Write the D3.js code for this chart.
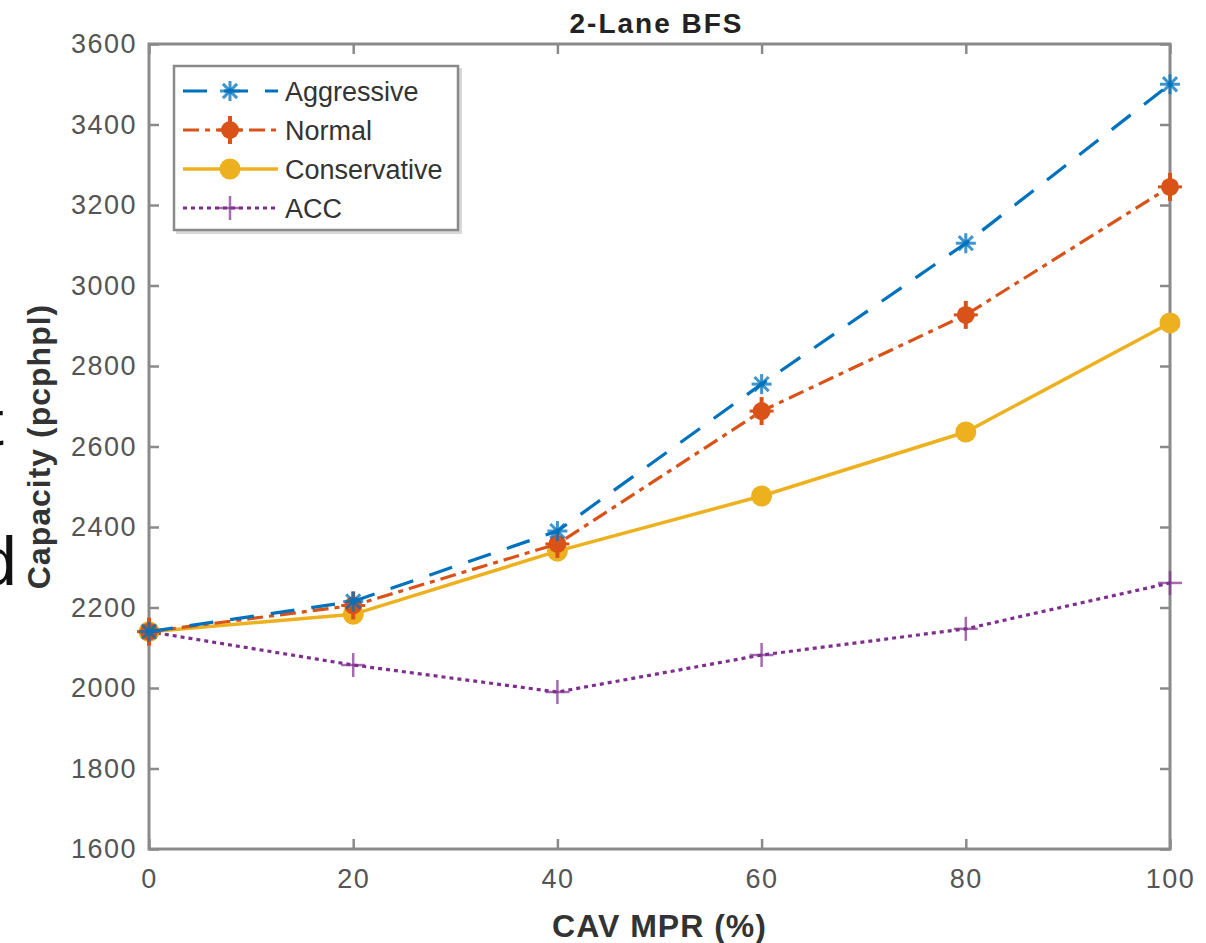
<!DOCTYPE html>
<html lang="en">
<head>
<meta charset="utf-8">
<title>2-Lane BFS</title>
<script src="https://cdn.jsdelivr.net/npm/d3@7"></script>
<style>
  body { margin: 0; padding: 0; background: #fff; overflow: hidden; }
  text { font-family: "Liberation Sans", Arial, sans-serif; }
  .tick text { fill: #555; font-size: 27px; letter-spacing: 1.5px; }
</style>
</head>
<body>
<script>
// data
var mpr = [0, 20, 40, 60, 80, 100];
var aggressive   = [2140, 2215, 2390, 2755, 3105, 3500];
var normal       = [2140, 2205, 2358, 2688, 2927, 3245];
var conservative = [2140, 2183, 2340, 2477, 2636, 2907];
var acc          = [2140, 2057, 1990, 2082, 2147, 2261];
var seriesNames  = ["Aggressive", "Normal", "Conservative", "ACC"];
var xTicks = [0, 20, 40, 60, 80, 100];
var yTicks = [1600, 1800, 2000, 2200, 2400, 2600, 2800, 3000, 3200, 3400, 3600];

var W = 1206, H = 943;
var pLeft = 149, pRight = 1170, pTop = 44, pBottom = 849;

var svg = d3.select("body").append("svg")
    .attr("width", W)
    .attr("height", H);

var x = d3.scaleLinear().domain([0, 100]).range([pLeft, pRight]);
var y = d3.scaleLinear().domain([1600, 3600]).range([pBottom, pTop]);

// cropped letters from the neighbouring figure at the left edge
svg.append("text").attr("x", -14).attr("y", 445)
    .style("font-size", "64px").style("fill", "#111").text("t");
svg.append("text").attr("x", -21).attr("y", 585)
    .style("font-size", "68px").style("fill", "#111").text("d");

// axes with inward ticks on all four sides
var axisColor = "#8a8a8a";
function styleAxis(g) {
  g.select(".domain").remove();
  g.selectAll(".tick line").attr("stroke", axisColor).attr("stroke-width", 2.5);
}
svg.append("g").attr("transform", "translate(0," + pBottom + ")")
    .call(d3.axisBottom(x).tickValues(xTicks).tickSize(-10).tickPadding(20))
    .call(styleAxis);
svg.append("g").attr("transform", "translate(0," + pTop + ")")
    .call(d3.axisTop(x).tickValues(xTicks).tickSize(-10).tickFormat(""))
    .call(styleAxis);
svg.append("g").attr("transform", "translate(" + pLeft + ",0)")
    .call(d3.axisLeft(y).tickValues(yTicks).tickSize(-10).tickPadding(12).tickFormat(d3.format("d")))
    .call(styleAxis);
svg.append("g").attr("transform", "translate(" + pRight + ",0)")
    .call(d3.axisRight(y).tickValues(yTicks).tickSize(-10).tickFormat(""))
    .call(styleAxis);

svg.append("rect")
    .attr("x", pLeft).attr("y", pTop)
    .attr("width", pRight - pLeft).attr("height", pBottom - pTop)
    .attr("fill", "none").attr("stroke", axisColor).attr("stroke-width", 3);

// series
var series = [
  { name: seriesNames[0], values: aggressive,   color: "#0072BD", dash: "24,17", marker: "star" },
  { name: seriesNames[1], values: normal,       color: "#D95319", dash: "16,6,5,6", marker: "diamond" },
  { name: seriesNames[2], values: conservative, color: "#EDB120", dash: null, marker: "circle" },
  { name: seriesNames[3], values: acc,          color: "#7E2F8E", dash: "4,4", marker: "plus" }
];

var line = d3.line()
    .x(function(d, i) { return x(mpr[i]); })
    .y(function(d) { return y(d); });

function drawMarker(g, type, color) {
  if (type === "star") {
    [0, 45, 90, 135].forEach(function(a) {
      g.append("line").attr("x1", -10).attr("x2", 10).attr("y1", 0).attr("y2", 0)
          .attr("transform", "rotate(" + a + ")")
          .attr("stroke", color).attr("stroke-width", 3).attr("opacity", 0.75);
    });
  } else if (type === "diamond") {
    g.append("circle").attr("r", 9).attr("fill", color);
    g.append("line").attr("x1", 0).attr("x2", 0).attr("y1", -14).attr("y2", 14)
        .attr("stroke", color).attr("stroke-width", 4);
    g.append("line").attr("x1", -12).attr("x2", 12).attr("y1", 0).attr("y2", 0)
        .attr("stroke", color).attr("stroke-width", 3);
  } else if (type === "circle") {
    g.append("circle").attr("r", 10.5).attr("fill", color);
  } else if (type === "plus") {
    g.append("line").attr("x1", -12).attr("x2", 12).attr("y1", 0).attr("y2", 0)
        .attr("stroke", color).attr("stroke-width", 2.5).attr("opacity", 0.7);
    g.append("line").attr("x1", 0).attr("x2", 0).attr("y1", -12).attr("y2", 12)
        .attr("stroke", color).attr("stroke-width", 2.5).attr("opacity", 0.7);
  }
}

// draw in reverse so Aggressive ends on top, like the picture
series.slice().reverse().forEach(function(s) {
  svg.append("path")
      .datum(s.values)
      .attr("d", line)
      .attr("fill", "none")
      .attr("stroke", s.color)
      .attr("stroke-width", s.marker === "circle" ? 3.5 : 3.2)
      .attr("stroke-dasharray", s.dash);
  s.values.forEach(function(v, i) {
    var g = svg.append("g").attr("transform", "translate(" + x(mpr[i]) + "," + y(v) + ")");
    drawMarker(g, s.marker, s.color);
  });
});

// legend
var lg = svg.append("g").attr("transform", "translate(174,66)");
lg.append("rect").attr("x", 2).attr("y", 2).attr("width", 286).attr("height", 166)
    .attr("fill", "#d8d8d8");
lg.append("rect").attr("x", 0).attr("y", 0).attr("width", 284).attr("height", 164)
    .attr("fill", "#fff").attr("stroke", "#8a8a8a").attr("stroke-width", 2.5);
series.forEach(function(s, i) {
  var yy = 25 + i * 39;
  lg.append("line").attr("x1", 9).attr("x2", 104).attr("y1", yy).attr("y2", yy)
      .attr("stroke", s.color)
      .attr("stroke-width", s.marker === "circle" ? 3.5 : 3.2)
      .attr("stroke-dasharray", s.dash);
  var m = lg.append("g").attr("transform", "translate(56," + yy + ")");
  drawMarker(m, s.marker, s.color);
  lg.append("text").attr("x", 111).attr("y", yy + 10)
      .style("font-size", "27px").style("fill", "#333").text(s.name);
});

// title and axis labels
svg.append("text").attr("x", (pLeft + pRight) / 2 - 3).attr("y", 33)
    .attr("text-anchor", "middle")
    .style("font-size", "28px").style("font-weight", "bold").style("fill", "#222")
    .style("letter-spacing", "2px")
    .text("2-Lane BFS");
svg.append("text").attr("x", (pLeft + pRight) / 2).attr("y", 937)
    .attr("text-anchor", "middle")
    .style("font-size", "32px").style("font-weight", "bold").style("fill", "#333")
    .style("letter-spacing", "1px")
    .text("CAV MPR (%)");
svg.append("text")
    .attr("transform", "translate(50," + ((pTop + pBottom) / 2) + ") rotate(-90)")
    .attr("text-anchor", "middle")
    .style("font-size", "32px").style("font-weight", "bold").style("fill", "#333")
    .style("letter-spacing", "1px")
    .text("Capacity (pcphpl)");
</script>
</body>
</html>
